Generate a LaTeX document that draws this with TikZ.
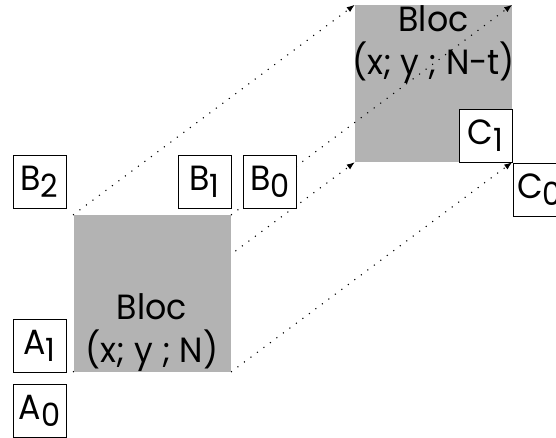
\documentclass[tikz,border=0pt]{standalone}
\usepackage{fontspec}
\setmainfont[FakeStretch=0.95]{Poppins}
\usetikzlibrary{arrows.meta}
\definecolor{blockgray}{RGB}{179,179,179}
\newcommand\lsub[1]{\raisebox{-7pt}{\fontsize{32}{32}\selectfont #1}}
\begin{document}
\begin{tikzpicture}[x=1pt,y=-1pt,
  lbl/.style={draw=black,line width=0.8pt,fill=white,minimum size=53pt,inner sep=0pt,font=\fontsize{35}{36}\selectfont},
  bloc/.style={fill=blockgray,minimum size=157pt,inner sep=0pt},
  proj/.style={line width=1.1pt,dash pattern=on 1.1pt off 7pt,-{Latex[length=8pt,width=6pt]}},
  btxt/.style={align=center,font=\fontsize{35}{43}\selectfont,inner sep=0pt}]
\useasboundingbox (0,0) rectangle (556,438);
% upper block
\node[bloc] (blocU) at (433.5,83.5) {};
\node[btxt,anchor=north] (txtU) at ([yshift=-1pt]blocU.north) {Bloc\\(x; y ; N-t)};
\node[lbl] (C1) at (485.5,136) {C\lsub{1}};
% lower block (projections underneath)
\coordinate (lnw) at (73,215);
\coordinate (lne) at (231,215);
\coordinate (lsw) at (73,372);
\coordinate (lse) at (231,372);
\draw[proj] (lnw) -- (blocU.north west);
\draw[proj] (lne) -- (blocU.north east);
\draw[proj] (lsw) -- (blocU.south west);
\draw[proj] (lse) -- (blocU.south east);
\node[bloc] (blocL) at (152,293.5) {};
\node[btxt,anchor=south] (txtL) at ([yshift=0pt]blocL.south) {Bloc\\(x; y ; N)};
% labels
\node[lbl] (B2) at (39.5,181.5) {B\lsub{2}};
\node[lbl] (B1) at (204.5,181.5) {B\lsub{1}};
\node[lbl] (B0) at (270,181.5) {B\lsub{0}};
\node[lbl] (A1) at (39.5,345.5) {A\lsub{1}};
\node[lbl] (A0) at (39.5,411) {A\lsub{0}};
\node[lbl] (C0) at (539.5,190) {C\lsub{0}};
\end{tikzpicture}
\end{document}
